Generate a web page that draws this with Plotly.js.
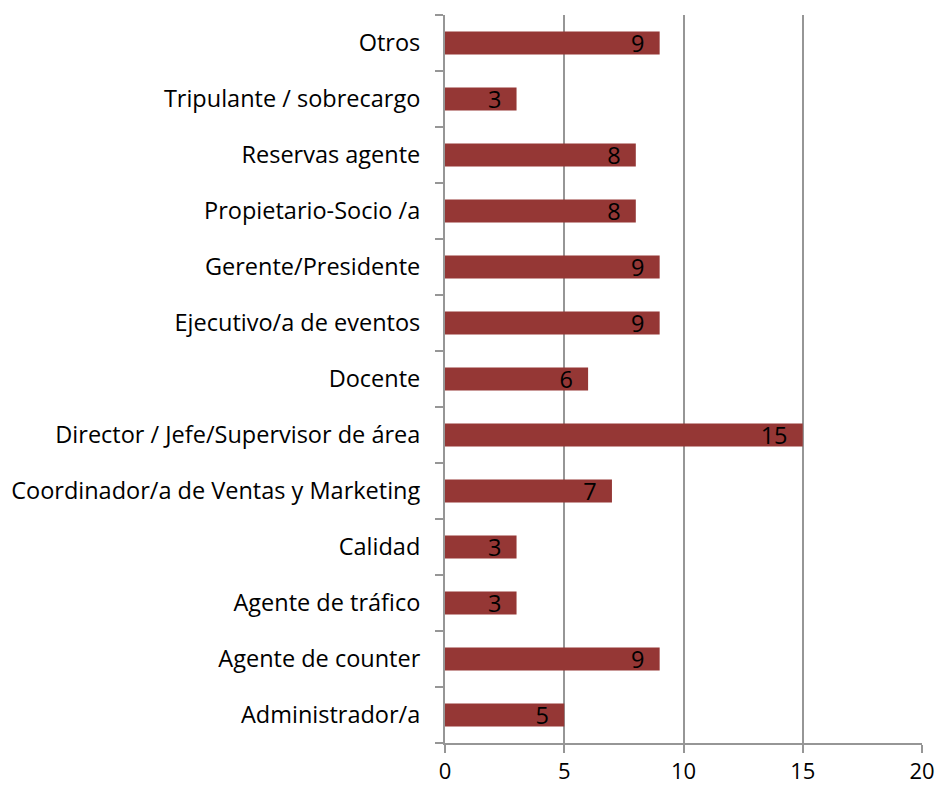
<!DOCTYPE html>
<html>
<head>
<meta charset="utf-8">
<script src="https://cdn.plot.ly/plotly-3.0.1.min.js"></script>
<style>
  body { margin: 0; background: #fff; }
  #chart { width: 940px; height: 790px; }
</style>
</head>
<body>
<div id="chart"></div>
<script>
// categories listed bottom to top
let cargos = [
    'Administrador/a',
    'Agente de counter',
    'Agente de tráfico',
    'Calidad',
    'Coordinador/a de Ventas y Marketing',
    'Director / Jefe/Supervisor de área',
    'Docente',
    'Ejecutivo/a de eventos',
    'Gerente/Presidente',
    'Propietario-Socio /a',
    'Reservas agente',
    'Tripulante / sobrecargo',
    'Otros'
];
let cantidad = [5, 9, 3, 3, 7, 15, 6, 9, 9, 8, 8, 3, 9];
let xTicks = [0, 5, 10, 15, 20];

let layout = {
    width: 940,
    height: 790,
    margin: {l: 445, r: 18, t: 15, b: 47},
    paper_bgcolor: '#ffffff',
    plot_bgcolor: '#ffffff',
    font: {family: '"Open Sans", Lato, sans-serif', size: 23.5, color: '#000000'},
    showlegend: false,
    bargap: 0.59,
    xaxis: {
        range: [0, 20],
        tickvals: xTicks,
        showgrid: true,
        gridcolor: '#969696',
        gridwidth: 2,
        zeroline: false,
        showline: true,
        linecolor: '#969696',
        linewidth: 2,
        ticks: 'outside',
        ticklen: 8,
        tickcolor: '#969696',
        tickwidth: 2,
        ticklabelstandoff: 0,
        tickfont: {size: 22},
        fixedrange: true
    },
    yaxis: {
        type: 'category',
        showgrid: false,
        showline: true,
        linecolor: '#969696',
        linewidth: 2,
        ticks: 'outside',
        tickson: 'boundaries',
        ticklen: 8,
        tickcolor: '#969696',
        tickwidth: 2,
        ticklabelstandoff: 18,
        tickfont: {size: 23.5},
        fixedrange: true
    }
};

Plotly.newPlot(
    'chart',
    [{
        type: 'bar',
        orientation: 'h',
        x: cantidad,
        y: cargos,
        marker: {color: '#953735'},
        // two no-break spaces keep the number off the bar end, as in the reference
        text: cantidad.map(v => v + '\u00a0\u00a0'),
        textposition: 'inside',
        insidetextanchor: 'end',
        textangle: 0,
        constraintext: 'none',
        textfont: {color: '#000000', size: 23.5},
        hoverinfo: 'none'
    }],
    layout,
    {staticPlot: true}
);
</script>
</body>
</html>
